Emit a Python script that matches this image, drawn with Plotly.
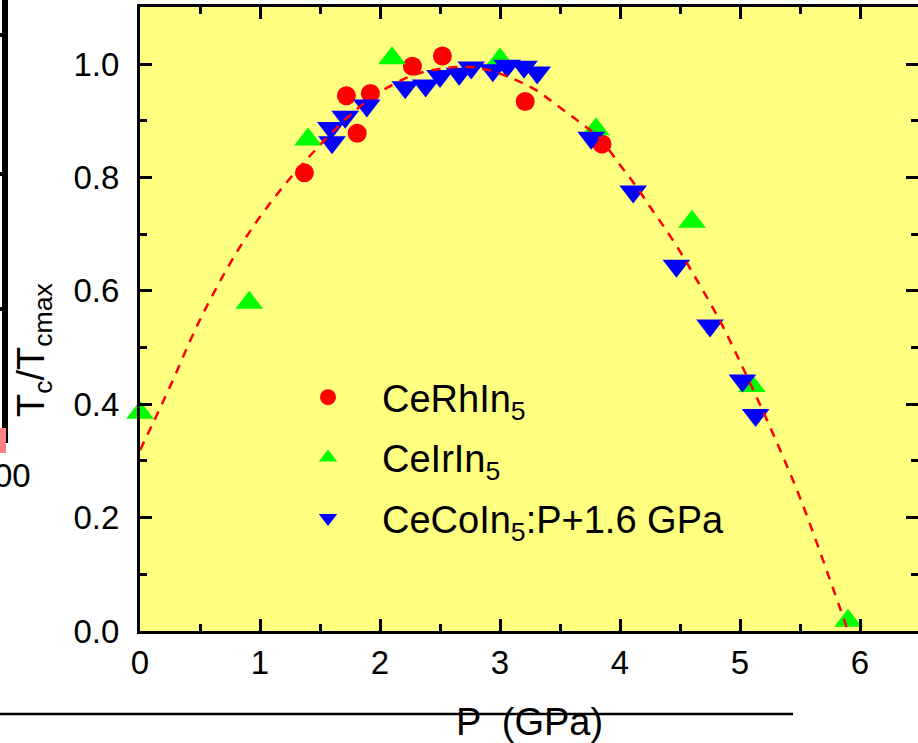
import plotly.graph_objects as go

# ---- data ----
rh_p = [1.37, 1.72, 1.81, 1.92, 2.27, 2.52, 3.21, 3.85]
rh_t = [0.808, 0.944, 0.878, 0.948, 0.996, 1.014, 0.934, 0.859]

ir_p = [0.0, 0.91, 1.40, 2.10, 3.00, 3.80, 4.60, 5.10, 5.90]
ir_t = [0.385, 0.579, 0.867, 1.010, 1.008, 0.885, 0.722, 0.432, 0.018]

co_p = [1.59, 1.60, 1.71, 1.89, 2.21, 2.38, 2.50, 2.66, 2.76, 2.94, 3.06,
        3.20, 3.31, 3.76, 4.11, 4.47, 4.75, 5.02, 5.13]
co_t = [0.887, 0.862, 0.907, 0.927, 0.959, 0.962, 0.979, 0.983, 0.994, 0.989,
        0.997, 0.995, 0.985, 0.870, 0.775, 0.644, 0.539, 0.442, 0.381]

fit_p = [0.0, 0.1, 0.25, 0.5, 0.8, 1.04, 1.36, 1.8, 2.05, 2.33, 2.69, 2.91,
         3.13, 3.30, 3.47, 3.66, 3.83, 4.0, 4.135, 4.27, 4.385, 4.51, 4.61,
         4.72, 4.85, 5.0, 5.25, 5.5, 5.75, 5.9]
fit_t = [0.319, 0.363, 0.431, 0.549, 0.666, 0.742, 0.825, 0.919, 0.957, 0.984,
         0.995, 0.989, 0.972, 0.954, 0.928, 0.898, 0.869, 0.822, 0.784, 0.742,
         0.707, 0.666, 0.630, 0.590, 0.540, 0.475, 0.360, 0.235, 0.090, 0.0]

x_ticks = [0, 1, 2, 3, 4, 5, 6]
y_ticks = [0.0, 0.2, 0.4, 0.6, 0.8, 1.0]

names = ["CeRhIn<sub>5</sub>", "CeIrIn<sub>5</sub>", "CeCoIn<sub>5</sub>:P+1.6 GPa"]

FONT = "Arial, Liberation Sans, sans-serif"
W, H = 918, 743
L, R, T, B = 140, 0, 7, 112
PW, PH = W - L - R, H - T - B

fig = go.Figure()
fig.add_trace(go.Scatter(x=rh_p, y=rh_t, mode="markers", name=names[0],
                         legendgroup="a", legendrank=1, cliponaxis=False,
                         marker=dict(symbol="circle", size=19, color="#FF0000")))
fig.add_trace(go.Scatter(x=ir_p, y=ir_t, mode="markers", name=names[1],
                         legendgroup="b", legendrank=2, cliponaxis=False,
                         marker=dict(symbol="triangle-up", size=24, color="#00FF00")))
fig.add_trace(go.Scatter(x=co_p, y=co_t, mode="markers", name=names[2],
                         legendgroup="c", legendrank=3, cliponaxis=False,
                         marker=dict(symbol="triangle-down", size=24, color="#0000FF")))
fig.add_trace(go.Scatter(x=fit_p, y=fit_t, mode="lines", showlegend=False,
                         line=dict(color="#FF0000", width=2.5, dash="9px,8px",
                                   shape="spline")))

axis_common = dict(
    showline=True, linecolor="black", linewidth=3, mirror="allticks",
    ticks="inside", ticklen=12, tickwidth=3, tickcolor="black",
    showgrid=False, zeroline=False, automargin=False,
    tickfont=dict(family=FONT, size=33, color="black"),
)
fig.update_xaxes(range=[0, PW / 120.0], tickvals=x_ticks,
                 minor=dict(dtick=0.5, ticks="inside", ticklen=7, tickwidth=3,
                            tickcolor="black"),
                 ticklabelstandoff=0, **axis_common)
fig.update_yaxes(range=[0, PH / 567.0], tickvals=y_ticks, tickformat=".1f",
                 minor=dict(dtick=0.1, ticks="inside", ticklen=7, tickwidth=3,
                            tickcolor="black"),
                 ticklabelstandoff=11, **axis_common)

def px_x(px):
    return (px - L) / PW

def px_y(py):
    return (H - B - py) / PH

annotations = [
    dict(text="T<sub>c</sub>/T<sub>cmax</sub>", textangle=-90, x=px_x(34), y=px_y(350),
         xref="paper", yref="paper", xanchor="center", yanchor="middle",
         showarrow=False, font=dict(family=FONT, size=38, color="black")),
    dict(text="P  (GPa)", x=px_x(529), y=px_y(722), xref="paper", yref="paper",
         xanchor="center", yanchor="middle", showarrow=False,
         font=dict(family=FONT, size=38, color="black")),
    dict(text="00", x=px_x(33), y=px_y(475), xref="paper", yref="paper",
         xanchor="right", yanchor="middle", showarrow=False,
         font=dict(family=FONT, size=33, color="black")),
]

shapes = [
    dict(type="line", xref="paper", yref="paper", x0=px_x(5), x1=px_x(5),
         y0=px_y(-2), y1=px_y(443), line=dict(color="black", width=6)),
    dict(type="rect", xref="paper", yref="paper", x0=px_x(-1), x1=px_x(6),
         y0=px_y(428), y1=px_y(453), fillcolor="#FF8080", line=dict(width=0)),
    dict(type="line", xref="paper", yref="paper", x0=px_x(-2), x1=px_x(793),
         y0=px_y(714), y1=px_y(714), line=dict(color="black", width=2.5)),
]
for yy in [35, 174, 309]:
    shapes.append(dict(type="line", xref="paper", yref="paper", x0=px_x(-2),
                       x1=px_x(4), y0=px_y(yy), y1=px_y(yy),
                       line=dict(color="black", width=4)))

fig.update_layout(
    width=W, height=H,
    margin=dict(l=L, r=R, t=T, b=B, pad=0, autoexpand=False),
    paper_bgcolor="white", plot_bgcolor="#FFFF80",
    font=dict(family=FONT, color="black"),
    showlegend=True,
    legend=dict(x=px_x(274), y=px_y(366), xanchor="left", yanchor="top",
                bgcolor="rgba(0,0,0,0)", borderwidth=0,
                font=dict(family=FONT, size=38, color="black"),
                itemwidth=98, tracegroupgap=8, traceorder="grouped"),
    annotations=annotations, shapes=shapes,
)

fig.write_html("out.html", config={"displayModeBar": False},
               post_script="document.body.style.margin='0px';"
                           "document.body.style.overflow='hidden';")
